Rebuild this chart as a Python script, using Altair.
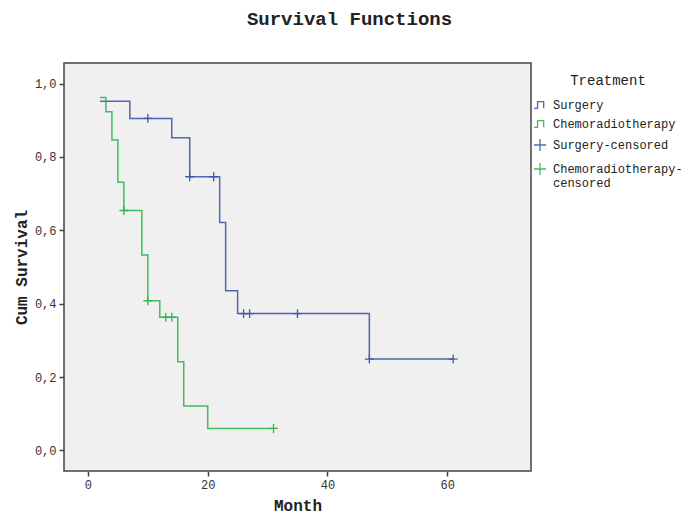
import altair as alt
import pandas as pd

# Kaplan-Meier step curves (time in months, cumulative survival)
surg_t = [2, 7, 14, 17, 22, 23, 25, 47, 61]
surg_s = [0.952, 0.905, 0.852, 0.746, 0.621, 0.435, 0.373, 0.249, 0.249]
chemo_t = [2, 3, 4, 5, 6, 9, 10, 12, 15, 16, 20, 31]
chemo_s = [0.962, 0.923, 0.846, 0.731, 0.654, 0.533, 0.408, 0.363, 0.242, 0.121, 0.060, 0.060]

# Censored observations
surg_cens_t = [10, 17, 21, 26, 27, 35, 47, 61]
surg_cens_s = [0.905, 0.746, 0.746, 0.373, 0.373, 0.373, 0.249, 0.249]
chemo_cens_t = [6, 10, 13, 14, 31]
chemo_cens_s = [0.654, 0.408, 0.363, 0.363, 0.060]

groups = ["Surgery", "Chemoradiotherapy", "Surgery-censored", "Chemoradiotherapy-censored"]
colors = ["#3e58ac", "#2eb848", "#3e58ac", "#2eb848"]
step_path = "M-1,0.55L-0.4,0.55L-0.4,-0.55L0.6,-0.55L0.6,0.55"
plus_path = "M-1,0L1,0M0,-1L0,1"
shapes = [step_path, step_path, plus_path, plus_path]

lines = pd.DataFrame(
    {"Month": surg_t + chemo_t,
     "Survival": surg_s + chemo_s,
     "Treatment": ["Surgery"] * len(surg_t) + ["Chemoradiotherapy"] * len(chemo_t)}
)
cens = pd.DataFrame(
    {"Month": surg_cens_t + chemo_cens_t,
     "Survival": surg_cens_s + chemo_cens_s,
     "Treatment": ["Surgery-censored"] * len(surg_cens_t)
     + ["Chemoradiotherapy-censored"] * len(chemo_cens_t)}
)

mono = "Liberation Mono"
comma_fmt = "replace(format(datum.value, '.1f'), '.', ',')"

x = alt.X("Month:Q", scale=alt.Scale(domain=[-4, 74], nice=False, zero=False),
          axis=alt.Axis(values=[0, 20, 40, 60], title="Month", titlePadding=7))
y = alt.Y("Survival:Q", scale=alt.Scale(domain=[-0.056, 1.056], nice=False, zero=False),
          axis=alt.Axis(values=[0, 0.2, 0.4, 0.6, 0.8, 1.0], labelExpr=comma_fmt,
                        title="Cum Survival", titlePadding=5))

color = alt.Color("Treatment:N", scale=alt.Scale(domain=groups, range=colors),
                  legend=alt.Legend(
                      title="Treatment", orient="none", legendX=469, legendY=11,
                      titleFont=mono, titleFontSize=14, titleFontWeight="normal",
                      titleColor="#222", titleAnchor="middle", titlePadding=10,
                      labelFont=mono, labelFontSize=12, labelColor="#222",
                      labelOffset=6, rowPadding=6, symbolSize=150,
                      symbolStrokeWidth=1.3, symbolFillColor="transparent",
                      padding=0, labelLimit=300,
                      labelExpr="datum.label == 'Chemoradiotherapy-censored' ? ['Chemoradiotherapy-', 'censored'] : datum.label"))
shape = alt.Shape("Treatment:N", scale=alt.Scale(domain=groups, range=shapes), legend=alt.Legend(title="Treatment"))

line_layer = alt.Chart(lines).mark_line(interpolate="step-after", strokeWidth=1.5, opacity=0.9).encode(
    x=x, y=y, color=color, detail="Treatment:N"
)
pt_layer = alt.Chart(cens).mark_point(filled=False, size=80, strokeWidth=1.3, opacity=1).encode(
    x=x, y=y, color=color, shape=shape
)

chart = alt.layer(line_layer, pt_layer).properties(
    width=467, height=408,
    autosize=alt.AutoSizeParams(type="none"),
    padding={"left": 56, "top": 55, "right": 158, "bottom": 43},
    title=alt.TitleParams("Survival Functions", font=mono, fontSize=19, fontWeight="bold",
                          color="#222", anchor="middle", dx=52, offset=34),
).configure_view(
    fill="#f0f0f0", stroke="#444", strokeWidth=1.5
).configure_axis(
    domain=False, grid=False, tickColor="#444", tickSize=5, tickWidth=1.5,
    labelFont=mono, labelFontSize=12, labelColor="#333", labelPadding=3,
    titleFont=mono, titleFontSize=16, titleFontWeight="bold", titleColor="#222"
)

chart.save("out.html", embed_options={"renderer": "svg", "actions": False})
